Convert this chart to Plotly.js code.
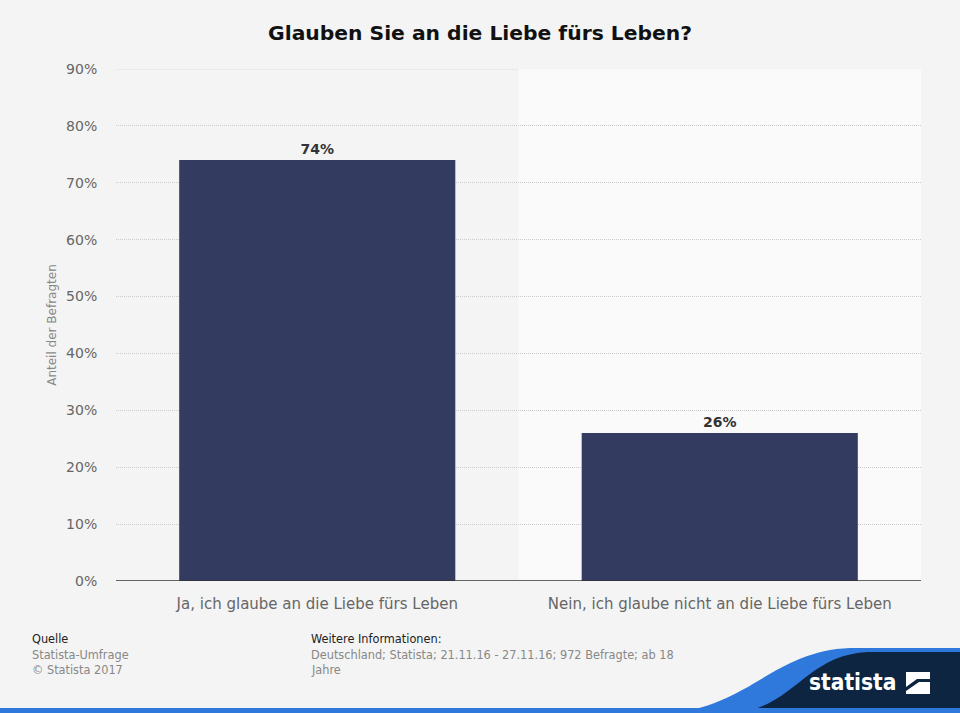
<!DOCTYPE html>
<html><head><meta charset="utf-8">
<script src="https://cdn.plot.ly/plotly-3.0.1.min.js"></script>
<style>html,body{margin:0;padding:0;background:#f4f4f4;}#chart{width:960px;height:713px;}</style>
</head><body><div id="chart"></div>
<script>
var categories = ["Ja, ich glaube an die Liebe fürs Leben", "Nein, ich glaube nicht an die Liebe fürs Leben"];
var values = [74, 26];
var valueLabels = ["74%", "26%"];
var tickVals = [0, 10, 20, 30, 40, 50, 60, 70, 80, 90];
var tickText = ["0%", "10%", "20%", "30%", "40%", "50%", "60%", "70%", "80%", "90%"];

var W = 960, H = 713, L = 116, R = 921, T = 69, B = 581;
function px(x){ return (x - L) / (R - L); }
function py(y){ return (B - y) / (B - T); }
function path(pts){
  return pts.map(function(p){
    if (typeof p === 'string') return p;
    return px(p[0]).toFixed(5) + ',' + py(p[1]).toFixed(5);
  }).join(' ');
}

var font = "DejaVu Sans, Verdana, sans-serif";
var cfont = "DejaVu Sans Condensed, DejaVu Sans, sans-serif";

var data = [{
  type: 'bar', x: [0, 1], y: values, width: 0.686,
  marker: {color: '#343b61'},
  text: valueLabels, textposition: 'outside', cliponaxis: false,
  textfont: {family: font, size: 14, color: '#333333', weight: 'bold'},
  hoverinfo: 'none'
}];

var shapes = [
  {type: 'rect', xref: 'x', yref: 'y', x0: 0.5, x1: 1.5, y0: 0, y1: 90, fillcolor: '#fafafa', line: {width: 0}, layer: 'below'},
  {type: 'line', xref: 'paper', yref: 'y', x0: 0, x1: 1, y0: 90, y1: 90, line: {color: '#cccccc', width: 1, dash: '1px,1px'}, layer: 'below'},
  {type: 'path', xref: 'paper', yref: 'paper', layer: 'above', fillcolor: '#2f78dc', line: {width: 0},
   path: 'M ' + path([[665, 713], 'C', [748, 709], [772, 651], [850, 648], 'L', [960, 648], 'L', [960, 713], 'Z'])},
  {type: 'path', xref: 'paper', yref: 'paper', layer: 'above', fillcolor: '#0d2540', line: {width: 0},
   path: 'M ' + path([[735, 713], 'C', [795, 707], [805, 655], [868, 652], 'L', [960, 652], 'L', [960, 713], 'Z'])},
  {type: 'rect', xref: 'paper', yref: 'paper', x0: px(0), x1: px(960), y0: py(713), y1: py(708), fillcolor: '#2f78dc', line: {width: 0}, layer: 'above'},
  {type: 'rect', xref: 'paper', yref: 'paper', x0: px(906), x1: px(930), y0: py(694), y1: py(672), fillcolor: '#ffffff', line: {width: 0}, layer: 'above'},
  {type: 'path', xref: 'paper', yref: 'paper', layer: 'above', fillcolor: '#0d2540', line: {width: 0},
   path: 'M ' + path([[906, 687], 'L', [917, 679], 'L', [930, 679], 'L', [930, 682], 'L', [919, 682], 'L', [906, 691], 'Z'])},
  {type: 'line', xref: 'paper', yref: 'y', x0: 0, x1: 1, y0: 0, y1: 0, line: {color: '#333333', width: 1.6}, layer: 'above'}
];

function note(x, y, text, size, color, extra){
  var a = {xref: 'paper', yref: 'paper', x: px(x), y: py(y), text: text, showarrow: false,
    xanchor: 'left', yanchor: 'middle', font: {family: cfont, size: size, color: color}};
  if (extra) for (var k in extra) a[k] = extra[k];
  return a;
}

var annotations = [
  note(30, 638, 'Quelle', 12.6, '#222222'),
  note(30, 654, 'Statista-Umfrage', 12.6, '#888888'),
  note(30, 669, '© Statista 2017', 12.6, '#888888'),
  note(309, 638, 'Weitere Informationen:', 12.6, '#222222'),
  note(309, 654, 'Deutschland; Statista; 21.11.16 - 27.11.16; 972 Befragte; ab 18', 12.6, '#888888'),
  note(309, 669, 'Jahre', 12.6, '#888888'),
  note(807, 682, '<b>statista</b>', 22.5, '#ffffff')
];

var layout = {
  width: W, height: H,
  paper_bgcolor: '#f4f4f4', plot_bgcolor: '#f4f4f4',
  margin: {l: L, r: W - R, t: T, b: H - B, pad: 0},
  title: {text: '<b>Glauben Sie an die Liebe fürs Leben?</b>', x: 0.5, xref: 'container', xanchor: 'center', y: 1 - 33 / H, yanchor: 'middle',
    font: {family: font, size: 20.3, color: '#111111'}},
  showlegend: false,
  xaxis: {range: [-0.5, 1.5], tickvals: [0, 1], ticktext: categories, showgrid: false, zeroline: false,
    ticks: 'outside', ticklen: 9, tickcolor: 'rgba(0,0,0,0)', tickfont: {family: font, size: 15, color: '#666666'}, showline: false, fixedrange: true},
  yaxis: {range: [0, 90], tickvals: tickVals, ticktext: tickText, showgrid: true, gridcolor: '#cccccc', griddash: '1px,1px', gridwidth: 1,
    zeroline: false, showline: false, ticks: 'outside', ticklen: 15, tickcolor: 'rgba(0,0,0,0)',
    tickfont: {family: font, size: 14, color: '#666666'},
    title: {text: 'Anteil der Befragten', standoff: 6, font: {family: font, size: 12, color: '#888888'}}, fixedrange: true},
  shapes: shapes,
  annotations: annotations
};

Plotly.newPlot('chart', data, layout, {displayModeBar: false, staticPlot: true});
</script></body></html>
